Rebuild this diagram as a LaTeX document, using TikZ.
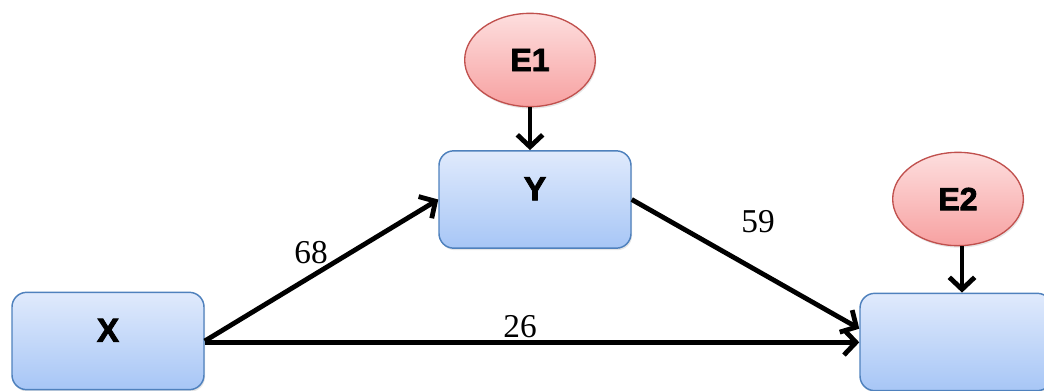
\documentclass[tikz,border=0pt]{standalone}
\usepackage{fontspec}
\setmainfont{Liberation Serif}
\newfontfamily\heavy{Liberation Sans}[BoldFeatures={FakeBold=2.5}]
\usetikzlibrary{arrows.meta,shapes.geometric,shadows}
\definecolor{boxtop}{HTML}{E0EAFC}
\definecolor{boxbot}{HTML}{A7C6F6}
\definecolor{boxline}{HTML}{4F81BD}
\definecolor{elltop}{HTML}{FDDEDE}
\definecolor{ellbot}{HTML}{F7A1A1}
\definecolor{ellline}{HTML}{C0504D}
\tikzset{
  varbox/.style={draw=boxline, line width=1.1pt, rounded corners=11pt,
    top color=boxtop, bottom color=boxbot, minimum width=144pt, minimum height=73pt,
    inner sep=0pt, drop shadow={opacity=0.2, shadow xshift=0.8pt, shadow yshift=-1.5pt}},
  errell/.style={ellipse, draw=ellline, line width=1pt, top color=elltop, bottom color=ellbot,
    minimum width=98pt, minimum height=70pt, inner sep=0pt, font=\heavy\bfseries\fontsize{24pt}{26pt}\selectfont,
    drop shadow={opacity=0.2, shadow xshift=0.8pt, shadow yshift=-1.5pt}},
  boxlbl/.style={font=\heavy\bfseries\fontsize{25pt}{27pt}\selectfont},
  coef/.style={font=\fontsize{25pt}{27pt}\selectfont, inner sep=0pt},
  path arrow/.style={line width=3.6pt, -{Straight Barb[length=9pt,width=19pt]}}
}
\begin{document}
\begin{tikzpicture}[x=0.75pt,y=-0.75pt]
\clip (0,0) rectangle (1044,390);
\useasboundingbox (0,0) rectangle (1044,390);
\node[varbox, label={[boxlbl, yshift=8pt]center:X}] (X) at (108,341) {};
\node[varbox, label={[boxlbl, yshift=8pt]center:Y}] (Y) at (535,199.5) {};
\node[varbox] (Z) at (956,342) {};
\node[errell] (E1) at (530,60) {E1};
\node[errell] (E2) at (958,199) {E2};
\draw[path arrow] (E1.south) -- (E1.south |- Y.north);
\draw[path arrow] ([xshift=3pt]E2.south) -- ([xshift=3pt]E2.south |- Z.north);
\draw[path arrow] (X.east) -- (Y.west);
\draw[path arrow] ([yshift=-1pt]X.east) -- ([yshift=-1pt]X.east -| Z.west);
\draw[path arrow] (Y.east) -- ([yshift=10pt]Z.west);
\node[coef] (c68) at (311,253) {68};
\node[coef] (c59) at (758,222) {59};
\node[coef] (c26) at (520,327) {26};
\end{tikzpicture}
\end{document}
